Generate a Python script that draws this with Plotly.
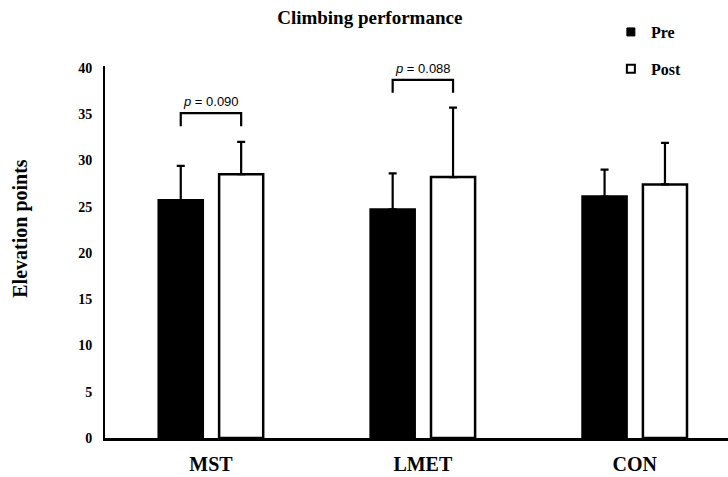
import plotly.graph_objects as go

# Group means and SD (upper error) for climbing performance
groups = ["MST", "LMET", "CON"]
pre_mean = [25.7, 24.7, 26.1]
pre_sd = [3.7, 3.9, 2.9]
post_mean = [28.5, 28.2, 27.4]
post_sd = [3.5, 7.5, 4.5]

# Pre/Post comparison brackets (group index, bracket top, leg bottom, label)
bracket_group = [0, 1]
bracket_top = [35.1, 38.7]
bracket_leg = [33.7, 37.3]
bracket_text = ["<i>p</i> = 0.090", "<i>p</i> = 0.088"]

serif = "Liberation Serif"
sans = "Liberation Sans"
x_idx = list(range(len(groups)))

BARGAP = 0.43
BARGROUPGAP = 0.27
half_slot = (1 - BARGAP) / 4  # centre offset of each bar in a 2-bar group

fig = go.Figure()
fig.add_trace(go.Bar(
    x=x_idx, y=pre_mean, name="Pre", showlegend=False,
    marker=dict(color="black", line=dict(color="black", width=2.5)),
    error_y=dict(type="data", array=pre_sd, arrayminus=[0] * 3,
                 color="black", thickness=2.2, width=4),
))
fig.add_trace(go.Bar(
    x=x_idx, y=post_mean, name="Post", showlegend=False,
    marker=dict(color="white", line=dict(color="black", width=2.5)),
    error_y=dict(type="data", array=post_sd, arrayminus=[0] * 3,
                 color="black", thickness=2.2, width=4),
))

# legend entries with small square keys
fig.add_trace(go.Scatter(
    x=[None], y=[None], mode="markers", name="Pre", legendgroup="pre",
    marker=dict(symbol="square", size=8, color="black",
                line=dict(color="black", width=1)),
))
fig.add_trace(go.Scatter(
    x=[None], y=[None], mode="markers", name="Post", legendgroup="post",
    marker=dict(symbol="square", size=8, color="white",
                line=dict(color="black", width=2)),
))

# significance brackets spanning the Pre and Post bar centres
for g, top, leg, txt in zip(bracket_group, bracket_top, bracket_leg, bracket_text):
    x0, x1 = g - half_slot, g + half_slot
    fig.add_trace(go.Scatter(
        x=[x0, x0, x1, x1], y=[leg, top, top, leg], mode="lines",
        line=dict(color="black", width=2.2), showlegend=False,
        hoverinfo="skip", cliponaxis=False,
    ))
    fig.add_annotation(
        x=g, y=top, text=txt, showarrow=False, yanchor="bottom", yshift=2,
        font=dict(family=sans, size=13, color="black"),
    )

fig.add_annotation(
    text="<b>Elevation points</b>", textangle=-90, xref="paper", yref="paper",
    x=-0.135, y=0.565, showarrow=False, xanchor="center", yanchor="middle",
    font=dict(family=serif, size=20, color="black"),
)

fig.update_layout(
    width=728, height=477,
    margin=dict(l=105, r=0, t=66, b=39, autoexpand=False),
    paper_bgcolor="white", plot_bgcolor="white",
    barmode="group", bargap=BARGAP, bargroupgap=BARGROUPGAP,
    title=dict(text="<b>Climbing performance</b>", xref="paper", x=0.425,
               xanchor="center", yref="container", y=0.964, yanchor="middle",
               font=dict(family=serif, size=19, color="black")),
    legend=dict(x=0.812, y=1.137, xanchor="left", yanchor="top",
                font=dict(family=serif, size=16, color="black", weight="bold"),
                tracegroupgap=13, bgcolor="rgba(0,0,0,0)"),
    showlegend=True,
    xaxis=dict(range=[-0.5, 2.44], tickvals=x_idx, ticktext=groups,
               showgrid=False, zeroline=False, ticks="", automargin=False,
               showline=True, linecolor="black", linewidth=3,
               ticklabelstandoff=6,
               tickfont=dict(family=serif, size=20, color="black", weight="bold")),
    yaxis=dict(range=[0, 40.2], tickvals=list(range(0, 41, 5)),
               showgrid=False, zeroline=False, ticks="", automargin=False,
               showline=True, linecolor="black", linewidth=2,
               ticklabelstandoff=8,
               tickfont=dict(family=serif, size=14, color="black", weight="bold")),
)

fig.write_html("out.html")
